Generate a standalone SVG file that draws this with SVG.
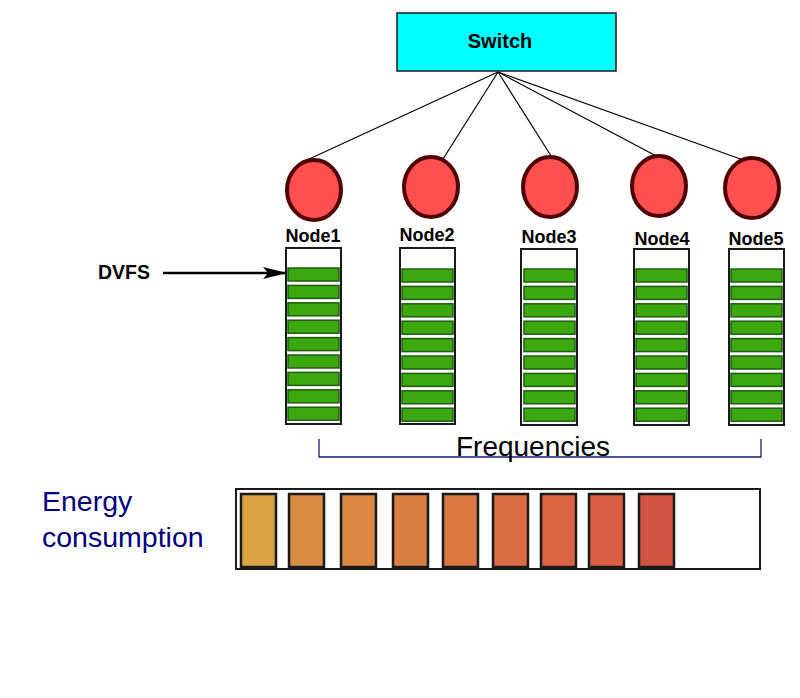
<svg xmlns="http://www.w3.org/2000/svg" width="800" height="698" viewBox="0 0 800 698">
<style>
.lbl{font-family:"Liberation Sans",Arial,sans-serif;font-weight:bold;font-size:18px;fill:#000}
.node{fill:#ff4f4f;stroke:#500000;stroke-width:4}
.col{fill:#fff;stroke:#1a1a1a;stroke-width:2}
.bar{fill:#3aa80e;stroke:#1f5c12;stroke-width:1.5}
.en{stroke:#1a1a1a;stroke-width:2.5}
.link{stroke:#000;stroke-width:1.2;fill:none}
</style>
<defs>
<marker id="ah" markerWidth="24" markerHeight="12" refX="23" refY="6" orient="auto" markerUnits="userSpaceOnUse">
<path d="M0,0 L24,6 L0,12 L5,6 Z" fill="#000"/>
</marker>
<g id="bars">
<rect class="bar" x="0" y="0" width="51" height="13"/>
<rect class="bar" x="0" y="17.4" width="51" height="13"/>
<rect class="bar" x="0" y="34.8" width="51" height="13"/>
<rect class="bar" x="0" y="52.2" width="51" height="13"/>
<rect class="bar" x="0" y="69.6" width="51" height="13"/>
<rect class="bar" x="0" y="87" width="51" height="13"/>
<rect class="bar" x="0" y="104.4" width="51" height="13"/>
<rect class="bar" x="0" y="121.8" width="51" height="13"/>
<rect class="bar" x="0" y="139.2" width="51" height="13"/>
</g>
</defs>
<rect width="800" height="698" fill="#fff"/>
<g id="connectors">
<line class="link" x1="498" y1="72" x2="307" y2="160"/>
<line class="link" x1="498" y1="72" x2="443" y2="159"/>
<line class="link" x1="498" y1="72" x2="553" y2="159"/>
<line class="link" x1="498" y1="72" x2="660" y2="158"/>
<line class="link" x1="498" y1="72" x2="746" y2="161"/>
<line x1="163" y1="273" x2="286" y2="273" stroke="#000" stroke-width="2.5" marker-end="url(#ah)"/>
</g>
<g id="switch">
<rect x="397" y="13" width="219" height="58" fill="#00ffff" stroke="#1a1a1a" stroke-width="1.5"/>
<text class="lbl" x="500" y="48" text-anchor="middle" style="font-size:20px">Switch</text>
</g>
<g id="node1">
<ellipse class="node" cx="314" cy="190" rx="27" ry="30"/>
<text class="lbl" x="313" y="242" text-anchor="middle">Node1</text>
<rect class="col" x="286" y="248" width="55" height="176"/>
<use href="#bars" x="288" y="268"/>
</g>
<g id="node2">
<ellipse class="node" cx="431" cy="187" rx="27" ry="30"/>
<text class="lbl" x="427" y="241" text-anchor="middle">Node2</text>
<rect class="col" x="400" y="248" width="55" height="176"/>
<use href="#bars" x="402" y="269"/>
</g>
<g id="node3">
<ellipse class="node" cx="550" cy="187" rx="27" ry="30"/>
<text class="lbl" x="549" y="243" text-anchor="middle">Node3</text>
<rect class="col" x="521" y="249" width="56" height="176"/>
<use href="#bars" x="524" y="269"/>
</g>
<g id="node4">
<ellipse class="node" cx="659" cy="186" rx="27" ry="30"/>
<text class="lbl" x="662" y="245" text-anchor="middle">Node4</text>
<rect class="col" x="634" y="249" width="55" height="176"/>
<use href="#bars" x="636" y="269"/>
</g>
<g id="node5">
<ellipse class="node" cx="752" cy="188" rx="27" ry="30"/>
<text class="lbl" x="756" y="245" text-anchor="middle">Node5</text>
<rect class="col" x="729" y="249" width="55" height="176"/>
<use href="#bars" x="731" y="269"/>
</g>
<g id="dvfs">
<text class="lbl" x="98" y="279" style="font-size:19.5px">DVFS</text>
</g>
<g id="frequencies">
<path d="M319,439 V457 H761 V439" fill="none" stroke="#1a1a80" stroke-width="1.3"/>
<text x="533" y="456" text-anchor="middle" font-family="Liberation Sans,Arial,sans-serif" font-size="28" fill="#000">Frequencies</text>
</g>
<g id="energy">
<text font-family="Liberation Sans,Arial,sans-serif" font-size="28.5" fill="#000080"><tspan x="42" y="511">Energy</tspan><tspan x="42" y="547">consumption</tspan></text>
<rect x="236" y="489" width="524" height="80" fill="#fff" stroke="#1a1a1a" stroke-width="2"/>
<rect class="en" x="241" y="494" width="35" height="73" fill="#d9a441"/>
<rect class="en" x="289" y="494" width="35" height="73" fill="#d98b44"/>
<rect class="en" x="341" y="494" width="35" height="73" fill="#d98742"/>
<rect class="en" x="393" y="494" width="35" height="73" fill="#d97f44"/>
<rect class="en" x="443" y="494" width="35" height="73" fill="#da7743"/>
<rect class="en" x="493" y="494" width="35" height="73" fill="#db6d44"/>
<rect class="en" x="541" y="494" width="35" height="73" fill="#db6543"/>
<rect class="en" x="589" y="494" width="35" height="73" fill="#da5e43"/>
<rect class="en" x="639" y="494" width="35" height="73" fill="#d05444"/>
</g>
</svg>
